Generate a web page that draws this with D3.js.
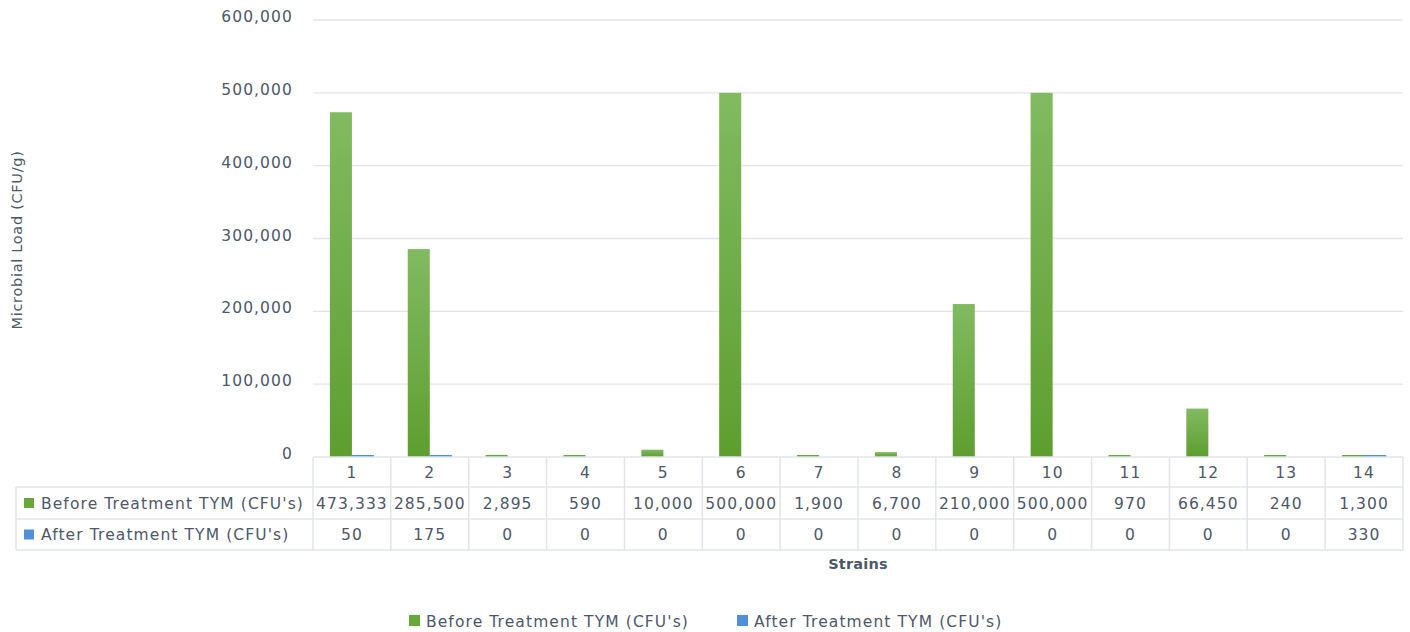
<!DOCTYPE html>
<html>
<head>
<meta charset="utf-8">
<script src="https://cdn.jsdelivr.net/npm/d3@7/dist/d3.min.js"></script>
<style>
  html, body { margin: 0; padding: 0; background: #fff; }
  svg text { font-family: "DejaVu Sans", sans-serif; fill: #4d5869; letter-spacing: 1.1px; }
</style>
</head>
<body>
<svg id="chart" width="1410" height="632"></svg>
<script>
// Strain labels and microbial counts
const strains = ["1","2","3","4","5","6","7","8","9","10","11","12","13","14"];
const beforeTYM = [473333, 285500, 2895, 590, 10000, 500000, 1900, 6700, 210000, 500000, 970, 66450, 240, 1300];
const afterTYM = [50, 175, 0, 0, 0, 0, 0, 0, 0, 0, 0, 0, 0, 330];
const seriesNames = ["Before Treatment TYM (CFU's)", "After Treatment TYM (CFU's)"];
const yTicks = [0, 100000, 200000, 300000, 400000, 500000, 600000];

const svg = d3.select("#chart");
const plot = { left: 313, right: 1403, top: 20, bottom: 457 };
const tableLeft = 16;
const rowBottoms = [487, 519, 550];
const gridColor = "#e1e4ea";

const defs = svg.append("defs");
const gGreen = defs.append("linearGradient").attr("id", "gradGreen")
  .attr("x1", 0).attr("y1", 0).attr("x2", 0).attr("y2", 1);
gGreen.append("stop").attr("offset", "0%").attr("stop-color", "#82ba61");
gGreen.append("stop").attr("offset", "100%").attr("stop-color", "#5e9e2f");
const gBlue = defs.append("linearGradient").attr("id", "gradBlue")
  .attr("x1", 0).attr("y1", 0).attr("x2", 0).attr("y2", 1);
gBlue.append("stop").attr("offset", "0%").attr("stop-color", "#5c9ee0");
gBlue.append("stop").attr("offset", "100%").attr("stop-color", "#4a8ad0");
const seriesFill = ["url(#gradGreen)", "url(#gradBlue)"];
const seriesSwatch = ["#66a83a", "#4f91d6"];

const x = d3.scaleBand().domain(strains).range([plot.left, plot.right]).padding(0);
const y = d3.scaleLinear().domain([0, 600000]).range([plot.bottom, plot.top]);
const barW = x.bandwidth() * 0.283;
const fmt = d3.format(",");
const fs = 15.5;

// horizontal gridlines
svg.append("g").selectAll("line").data(yTicks.filter(d => d > 0)).join("line")
  .attr("x1", plot.left).attr("x2", plot.right)
  .attr("y1", d => y(d)).attr("y2", d => y(d))
  .attr("stroke", gridColor).attr("stroke-width", 1.3);

// y axis labels
const yAxis = d3.axisLeft(y).tickValues(yTicks).tickFormat(fmt).tickSize(0).tickPadding(0);
const yg = svg.append("g").attr("transform", `translate(293,0)`).call(yAxis);
yg.select(".domain").remove();
yg.selectAll("text").attr("font-size", fs).attr("fill", "#4d5869")
  .attr("font-family", "DejaVu Sans, sans-serif").attr("dy", "0.1em");

// bars
const seriesData = [beforeTYM, afterTYM];
seriesData.forEach((vals, si) => {
  svg.append("g").selectAll("rect").data(vals.map((v, i) => ({ v, k: strains[i] })))
    .join("rect")
    .filter(d => d.v > 0)
    .attr("x", d => x(d.k) + x.bandwidth() / 2 - barW + si * barW)
    .attr("width", barW)
    .attr("y", d => Math.min(y(d.v), plot.bottom - 2))
    .attr("height", d => Math.max(plot.bottom - y(d.v), 2))
    .attr("fill", d => (plot.bottom - y(d.v)) < 4 ? seriesSwatch[si] : seriesFill[si]);
});

// data table
const tg = svg.append("g");
tg.append("line").attr("x1", plot.left).attr("x2", plot.right)
  .attr("y1", plot.bottom).attr("y2", plot.bottom).attr("stroke", gridColor).attr("stroke-width", 1.5);
rowBottoms.forEach(yy => {
  tg.append("line").attr("x1", tableLeft).attr("x2", plot.right)
    .attr("y1", yy).attr("y2", yy).attr("stroke", gridColor).attr("stroke-width", 1.5);
});
tg.append("line").attr("x1", tableLeft).attr("x2", tableLeft)
  .attr("y1", rowBottoms[0]).attr("y2", rowBottoms[2]).attr("stroke", gridColor).attr("stroke-width", 1.5);
tg.selectAll("line.v").data(strains.map(s => x(s)).concat([plot.right])).join("line")
  .attr("x1", d => d).attr("x2", d => d)
  .attr("y1", plot.bottom).attr("y2", rowBottoms[2])
  .attr("stroke", gridColor).attr("stroke-width", 1.5);

// category row
tg.selectAll("text.cat").data(strains).join("text")
  .attr("x", d => x(d) + x.bandwidth() / 2).attr("y", (plot.bottom + rowBottoms[0]) / 2)
  .attr("text-anchor", "middle").attr("dy", "0.36em").attr("font-size", fs).text(d => d);

// series rows
seriesData.forEach((vals, si) => {
  const top = rowBottoms[si], bot = rowBottoms[si + 1], cy = (top + bot) / 2;
  tg.append("rect").attr("x", 24).attr("y", cy - 5).attr("width", 10).attr("height", 10)
    .attr("fill", seriesSwatch[si]);
  tg.append("text").attr("x", 41).attr("y", cy).attr("dy", "0.36em")
    .attr("font-size", fs).text(seriesNames[si]);
  tg.selectAll(null).data(vals.map((v, i) => ({ v, k: strains[i] }))).join("text")
    .attr("x", d => x(d.k) + x.bandwidth() / 2).attr("y", cy).attr("dy", "0.36em")
    .attr("text-anchor", "middle").attr("font-size", fs).text(d => fmt(d.v));
});

// axis titles
svg.append("text").attr("transform", `translate(22,240) rotate(-90)`)
  .attr("text-anchor", "middle").attr("font-size", 14.5).style("letter-spacing", "0.7px")
  .text("Microbial Load (CFU/g)");
svg.append("text").attr("x", (plot.left + plot.right) / 2).attr("y", 569)
  .attr("text-anchor", "middle").attr("font-size", 14.5).attr("font-weight", "bold")
  .style("letter-spacing", "0.2px").text("Strains");

// legend
const legend = svg.append("g");
const legendX = [409, 737];
seriesNames.forEach((n, i) => {
  legend.append("rect").attr("x", legendX[i]).attr("y", 615).attr("width", 11).attr("height", 11)
    .attr("fill", seriesSwatch[i]);
  legend.append("text").attr("x", legendX[i] + 17).attr("y", 621).attr("dy", "0.36em")
    .attr("font-size", fs).text(n);
});
</script>
</body>
</html>
